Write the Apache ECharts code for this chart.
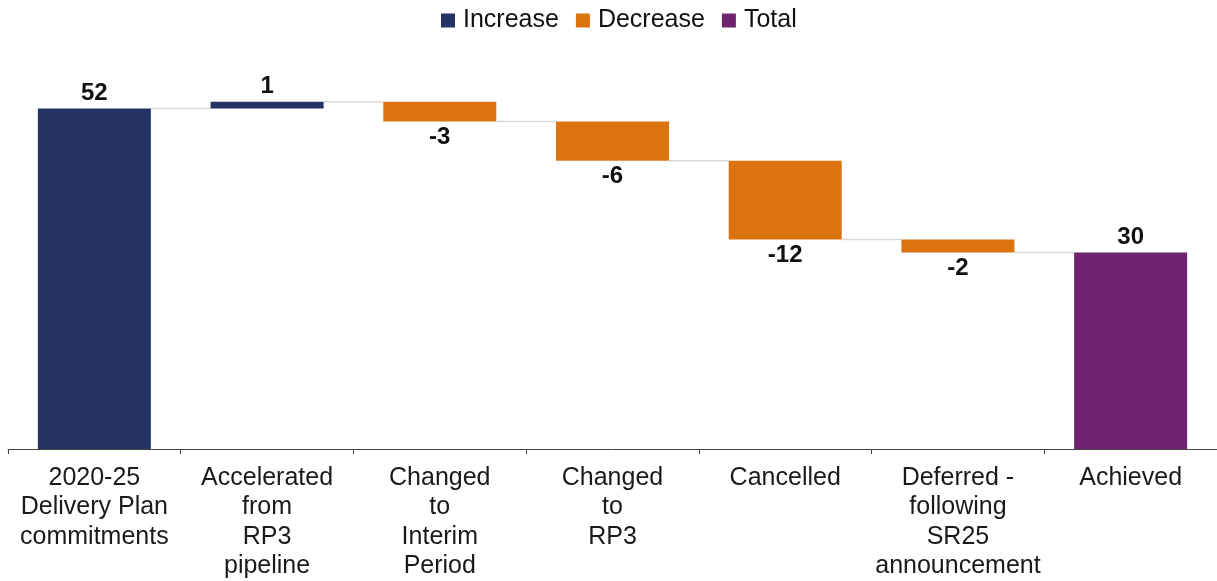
<!DOCTYPE html>
<html>
<head>
<meta charset="utf-8">
<script src="https://cdn.jsdelivr.net/npm/echarts@6/dist/echarts.min.js"></script>
<style>
  html, body { margin: 0; padding: 0; background: #fff; }
  #chart { width: 1217px; height: 581px; }
</style>
</head>
<body>
<div id="chart"></div>
<script>
  const categories = [
    '2020-25\nDelivery Plan\ncommitments',
    'Accelerated\nfrom\nRP3\npipeline',
    'Changed\nto\nInterim\nPeriod',
    'Changed\nto\nRP3',
    'Cancelled',
    'Deferred -\nfollowing\nSR25\nannouncement',
    'Achieved'
  ]
  const values = [52, 1, -3, -6, -12, -2, 30]
  // first bar is the starting commitment, drawn in the "Increase" colour
  const kinds = ['inc', 'inc', 'dec', 'dec', 'dec', 'dec', 'total']

  const colors = { inc: '#253264', dec: '#DA7310', total: '#70246F' }
  const font = '"Liberation Sans", Arial, sans-serif'

  // build the waterfall pieces
  let running = 0
  const base = [], incData = [], decData = [], totData = [], levels = []
  values.forEach((v, i) => {
    const k = kinds[i]
    if (k === 'total') {
      base.push(0)
      totData.push(v)
      incData.push('-')
      decData.push('-')
      running = v
    } else if (k === 'inc') {
      base.push(running)
      incData.push(v)
      decData.push('-')
      totData.push('-')
      running += v
    } else {
      base.push(running + v)
      decData.push(-v)
      incData.push('-')
      totData.push('-')
      running += v
    }
    levels.push(running)
  })
  const connectors = levels.slice(0, -1).map((l, i) => [i, l])

  const chart = echarts.init(document.getElementById('chart'))
  const BAR_W = 113

  const labelStyle = {
    show: true,
    fontFamily: font,
    fontSize: 24,
    fontWeight: 'bold',
    color: '#111'
  }

  chart.setOption({
    animation: false,
    legend: {
      top: 3,
      left: 436,
      icon: 'rect',
      itemWidth: 14,
      itemHeight: 14,
      itemGap: 17,
      textStyle: { fontFamily: font, fontSize: 25, color: '#111', padding: [0, 0, 0, 3] },
      data: ['Increase', 'Decrease', 'Total']
    },
    grid: { left: 8, right: -2, top: 56, bottom: 131 },
    xAxis: {
      type: 'category',
      data: categories,
      axisLine: { lineStyle: { color: '#444', width: 1 } },
      axisTick: { show: true, length: 5, lineStyle: { color: '#444' } },
      axisLabel: {
        interval: 0,
        margin: 14,
        fontFamily: font,
        fontSize: 25,
        lineHeight: 29.5,
        color: '#1a1a1a'
      }
    },
    yAxis: {
      type: 'value',
      min: 0,
      max: 60,
      show: false,
      splitLine: { show: false }
    },
    series: [
      {
        name: 'base',
        type: 'bar',
        stack: 'w',
        barWidth: BAR_W,
        itemStyle: { color: 'transparent' },
        emphasis: { disabled: true },
        data: base
      },
      {
        name: 'Increase',
        type: 'bar',
        stack: 'w',
        barWidth: BAR_W,
        itemStyle: { color: colors.inc },
        label: Object.assign({}, labelStyle, { position: 'top', distance: 3 }),
        data: incData
      },
      {
        name: 'Decrease',
        type: 'bar',
        stack: 'w',
        barWidth: BAR_W,
        itemStyle: { color: colors.dec },
        label: Object.assign({}, labelStyle, {
          position: 'bottom',
          distance: 4,
          formatter: p => '-' + p.value
        }),
        data: decData
      },
      {
        name: 'Total',
        type: 'bar',
        stack: 'w',
        barWidth: BAR_W,
        itemStyle: { color: colors.total },
        label: Object.assign({}, labelStyle, { position: 'top', distance: 3 }),
        data: totData
      },
      {
        name: 'connector',
        type: 'custom',
        silent: true,
        z: 1,
        renderItem: (params, api) => {
          const p = api.coord([api.value(0), api.value(1)])
          const w = api.size([1, 0])[0]
          return {
            type: 'line',
            shape: { x1: p[0] + BAR_W / 2, y1: p[1], x2: p[0] + w - BAR_W / 2, y2: p[1] },
            style: { stroke: '#d9d9d9', lineWidth: 1.5 }
          }
        },
        data: connectors
      }
    ]
  })
</script>
</body>
</html>
